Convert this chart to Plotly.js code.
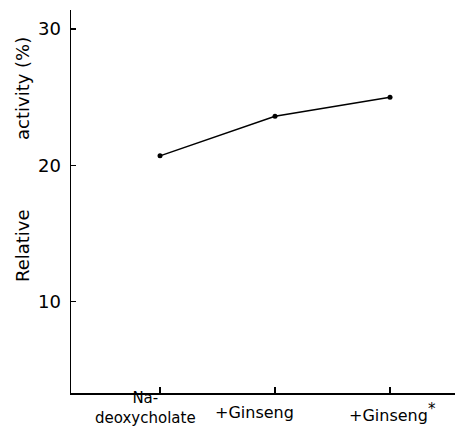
<!DOCTYPE html>
<html><head><meta charset="utf-8">
<script src="https://cdn.plot.ly/plotly-3.0.1.min.js"></script>
<style>html,body{margin:0;padding:0;background:#fff;}#chart{width:459px;height:428px;}</style>
</head><body><div id="chart"></div>
<script>
const categories = ["Na-<br>deoxycholate", "+Ginseng", "+Ginseng<sup><span style=\"font-size:15px\">*</span></sup>"];
const positions = [0, 1, 2];
const activity = [20.7, 23.6, 25.0];
const yTicks = [10, 20, 30];
const yTitleParts = ["Relative", "activity (%)"];

const trace = {
  x: positions, y: activity, type: 'scatter', mode: 'lines+markers',
  line: {color: '#000', width: 1.5},
  marker: {color: '#000', size: 5},
  hoverinfo: 'skip'
};
const fontFam = 'DejaVu Sans, sans-serif';
const labelY = [-0.038, -0.052, -0.052];
const labelShift = [-15, -21, 2];
const labelSize = [15, 16, 16];
const annotations = categories.map((c, i) => ({
  text: c, xref: 'x', yref: 'paper', x: positions[i], y: labelY[i], xshift: labelShift[i],
  xanchor: 'center', yanchor: 'middle', showarrow: false,
  font: {size: labelSize[i], family: fontFam, color: '#000'}
}));
const titleY = [0.386, 0.796];
yTitleParts.forEach((t, i) => annotations.push({
  text: t, xref: 'paper', yref: 'paper', x: -0.128, y: titleY[i],
  xanchor: 'center', yanchor: 'middle', textangle: -90, showarrow: false,
  font: {size: 18, family: fontFam, color: '#000'}
}));

const layout = {
  width: 459, height: 428,
  margin: {l: 71, r: 4, t: 10, b: 35},
  paper_bgcolor: '#fff', plot_bgcolor: '#fff',
  showlegend: false,
  font: {family: fontFam, color: '#000', size: 14},
  xaxis: {
    range: [-0.774, 2.565], tickvals: positions, showticklabels: false,
    ticks: 'inside', ticklen: 6, tickwidth: 1.2, tickcolor: '#000',
    showline: true, linecolor: '#000', linewidth: 1.5, showgrid: false, zeroline: false,
    fixedrange: true
  },
  yaxis: {
    range: [3.3, 31.4], tickvals: yTicks,
    ticks: 'inside', ticklen: 5, tickwidth: 1.2, tickcolor: '#000',
    showline: true, linecolor: '#000', linewidth: 1.5, showgrid: false, zeroline: false,
    tickfont: {size: 18}, ticklabelstandoff: 5, fixedrange: true
  },
  annotations: annotations
};
Plotly.newPlot('chart', [trace], layout, {displayModeBar: false, staticPlot: true});
</script></body></html>
